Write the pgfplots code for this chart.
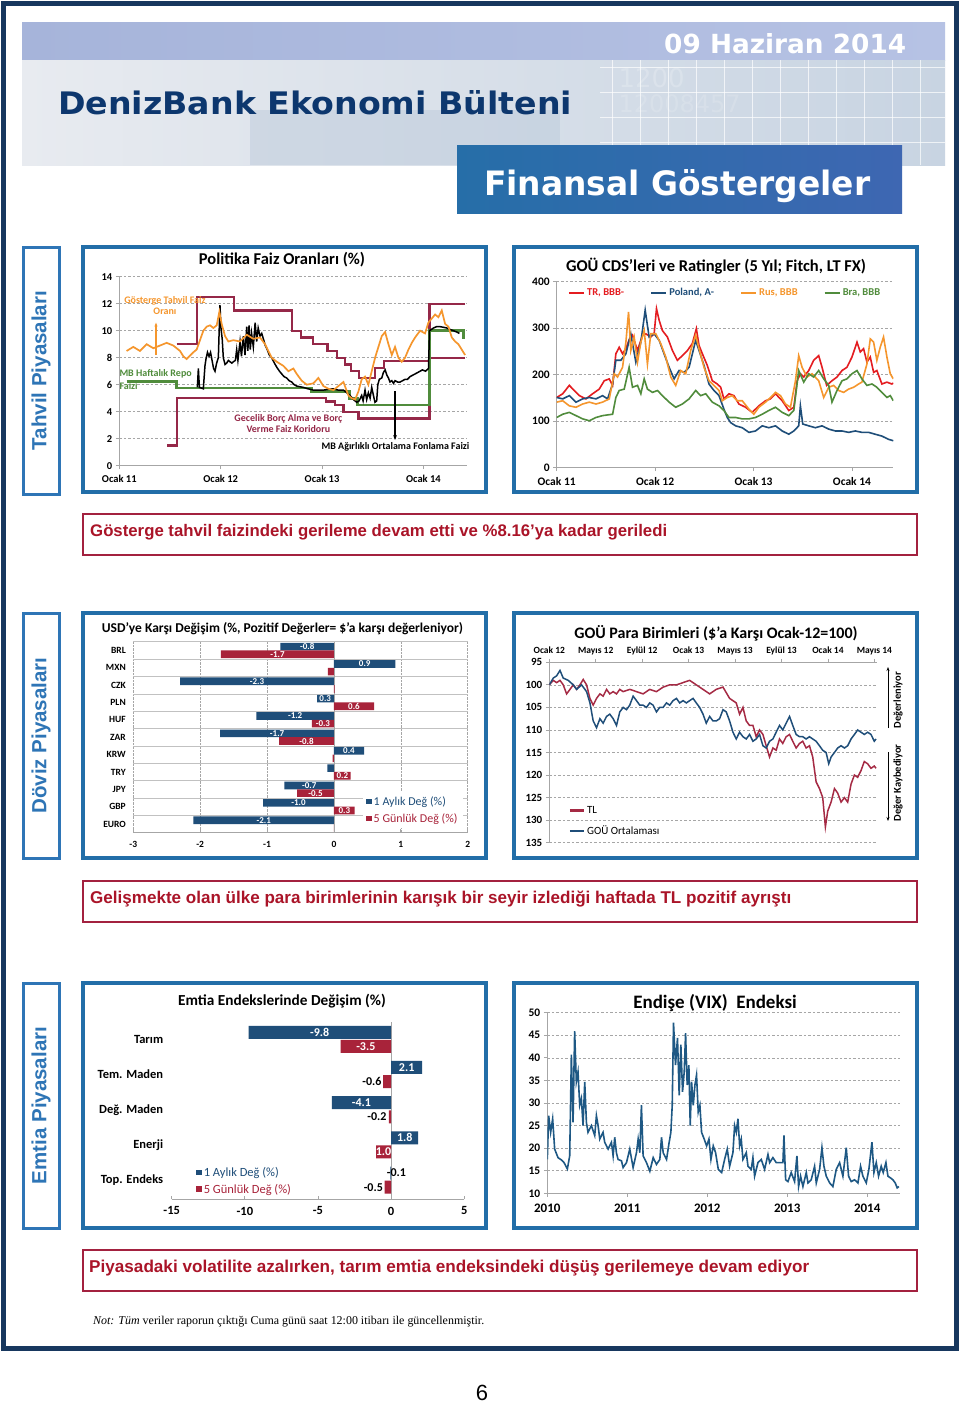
\documentclass[border=0pt]{standalone}
\usepackage{fontspec}
\usepackage{graphicx}
\usepackage{pgfplots}
\usepackage{pgfplotstable}
\pgfplotsset{compat=1.18}
\usetikzlibrary{arrows.meta}
\setmainfont{Carlito}
\newfontfamily\tahoma{DejaVu Sans}
\newfontfamily\arial{Liberation Sans}
\newfontfamily\tnr{Liberation Serif}

\definecolor{frame}{RGB}{23,55,94}
\definecolor{panel}{RGB}{34,110,168}
\definecolor{seclab}{RGB}{46,117,182}
\definecolor{capred}{RGB}{170,20,40}
\definecolor{capbox}{RGB}{163,33,63}
\definecolor{navytxt}{RGB}{13,55,110}
\definecolor{band}{RGB}{166,180,218}
\definecolor{bandr}{RGB}{182,194,228}
\definecolor{hdl}{RGB}{232,235,240}
\definecolor{hdr}{RGB}{200,212,226}
\definecolor{hdm}{RGB}{185,200,218}
\definecolor{boxl}{RGB}{38,110,168}
\definecolor{boxr}{RGB}{62,103,178}
\definecolor{maroon}{RGB}{149,40,72}
\definecolor{orng}{RGB}{245,150,45}
\definecolor{grn}{RGB}{80,140,60}
\definecolor{trred}{RGB}{228,28,32}
\definecolor{dblue}{RGB}{31,78,121}
\definecolor{barred}{RGB}{168,35,58}
\definecolor{tlred}{RGB}{165,42,68}
\definecolor{vixblue}{RGB}{30,88,132}
\definecolor{axgray}{RGB}{166,166,166}

% ---------- data ----------
% Politika faiz oranlari
\pgfplotstableread{
x y
2011.566 9
2011.770 12.5
2012.132 11.5
2012.701 10
2012.789 9.5
2012.914 9
2013.053 8.5
2013.145 8
2013.227 7.5
2013.283 7
2013.362 6.5
2013.526 7.25
2013.612 7.75
2014.060 12
2014.411 12
}\upcor
\pgfplotstableread{
x y
2011.474 1.5
2011.566 5
2013.039 4.75
2013.128 4.5
2013.211 4.0
2013.359 3.5
2014.060 8
2014.411 8
}\lowcor
\pgfplotstableread{
x y
2011.072 6.25
2011.566 5.75
2012.898 5.5
2013.270 5
2013.349 4.5
2014.060 10
2014.395 9.5
2014.411 9.5
}\repo
\pgfplotstableread{
x y
2011.072 8.5
2011.138 8.8
2011.204 8.5
2011.270 9.0
2011.336 8.7
2011.401 8.9
2011.467 9.1
2011.533 8.9
2011.599 8.5
2011.632 8.1
2011.664 7.9
2011.730 8.4
2011.763 8.6
2011.796 9.3
2011.829 10.0
2011.862 10.3
2011.895 10.4
2011.928 10.2
2011.961 10.4
2011.987 11.4
2012.010 10.5
2012.043 9.6
2012.076 9.2
2012.125 9.3
2012.191 9.2
2012.257 9.7
2012.322 9.4
2012.388 9.5
2012.438 9.0
2012.470 8.5
2012.503 8.0
2012.553 7.7
2012.618 7.4
2012.668 7.0
2012.717 7.2
2012.750 6.8
2012.799 6.3
2012.849 6.0
2012.914 6.1
2012.964 6.5
2013.013 5.9
2013.063 5.7
2013.112 5.6
2013.161 5.9
2013.211 6.2
2013.260 5.2
2013.293 5.0
2013.326 4.9
2013.359 5.5
2013.391 6.4
2013.424 6.6
2013.457 6.0
2013.490 7.0
2013.523 8.0
2013.556 8.8
2013.589 9.6
2013.622 9.9
2013.655 9.0
2013.688 8.2
2013.720 8.8
2013.753 8.0
2013.786 7.7
2013.819 8.0
2013.852 8.6
2013.885 9.1
2013.918 9.5
2013.967 10.0
2014.016 9.8
2014.049 10.6
2014.082 10.9
2014.115 11.2
2014.148 11.0
2014.181 11.5
2014.214 10.5
2014.247 10.3
2014.280 9.5
2014.313 9.2
2014.345 9.0
2014.378 8.6
2014.411 8.2
}\bond
\pgfplotstableread{
x y
2011.770 5.8
2011.780 7.2
2011.790 5.8
2011.829 5.7
2011.845 7.4
2011.855 7.9
2011.870 8.4
2011.885 8.1
2011.900 8.4
2011.915 7.8
2011.930 7.2
2011.944 7.0
2011.960 7.6
2011.977 8.0
2011.993 11.9
2012.003 10.2
2012.015 9.4
2012.026 8.0
2012.043 7.5
2012.059 7.6
2012.076 7.8
2012.092 7.7
2012.110 7.6
2012.125 7.7
2012.145 7.8
2012.158 8.6
2012.170 7.8
2012.191 9.2
2012.205 8.1
2012.224 9.6
2012.240 8.2
2012.257 10.3
2012.268 8.5
2012.280 10.4
2012.292 8.6
2012.305 9.8
2012.322 8.8
2012.340 10.6
2012.355 9.2
2012.370 10.2
2012.388 9.6
2012.405 9.8
2012.421 9.4
2012.440 8.9
2012.454 8.7
2012.480 8.2
2012.503 8.0
2012.530 7.6
2012.553 7.3
2012.580 7.0
2012.602 6.8
2012.625 6.6
2012.651 6.5
2012.675 6.3
2012.701 6.2
2012.725 6.0
2012.750 5.9
2012.816 5.8
2012.860 5.7
2012.914 5.6
2012.960 5.6
2013.013 5.6
2013.060 5.65
2013.112 5.7
2013.160 5.6
2013.211 5.6
2013.245 5.4
2013.276 5.2
2013.310 4.9
2013.342 4.7
2013.365 4.8
2013.391 5.2
2013.405 4.8
2013.424 5.6
2013.440 4.9
2013.457 5.4
2013.474 5.0
2013.490 5.8
2013.507 5.2
2013.522 4.7
2013.539 4.8
2013.550 6.0
2013.565 6.4
2013.589 6.5
2013.605 6.9
2013.622 7.1
2013.640 6.7
2013.655 6.5
2013.670 6.2
2013.688 6.3
2013.705 6.1
2013.720 6.3
2013.745 6.2
2013.770 6.2
2013.795 6.3
2013.819 6.4
2013.843 6.4
2013.868 6.6
2013.893 6.7
2013.918 6.8
2013.943 6.9
2013.967 7.0
2013.990 7.1
2014.020 7.0
2014.050 7.2
2014.060 10.0
2014.080 10.1
2014.099 10.2
2014.130 10.3
2014.164 10.3
2014.200 10.25
2014.230 10.2
2014.260 10.1
2014.296 10.0
2014.330 9.9
2014.355 9.8
}\fund

% CDS
\pgfplotstableread{
x y
2011.000 151
2011.061 159
2011.128 177
2011.179 166
2011.230 155
2011.297 148
2011.365 159
2011.432 169
2011.483 187
2011.534 191
2011.568 177
2011.601 245
2011.635 259
2011.669 245
2011.703 256
2011.736 275
2011.770 285
2011.821 252
2011.872 285
2011.905 288
2011.956 281
2011.990 288
2012.014 342
2012.041 317
2012.074 295
2012.125 281
2012.176 252
2012.226 231
2012.277 241
2012.328 252
2012.378 267
2012.419 299
2012.446 263
2012.480 245
2012.530 220
2012.581 187
2012.632 180
2012.666 173
2012.699 148
2012.750 159
2012.801 155
2012.851 137
2012.919 130
2012.986 119
2013.054 133
2013.122 144
2013.172 148
2013.223 159
2013.291 144
2013.358 123
2013.409 130
2013.443 187
2013.476 202
2013.510 195
2013.561 209
2013.611 231
2013.662 241
2013.696 216
2013.743 177
2013.797 187
2013.848 195
2013.899 209
2013.949 216
2014.000 238
2014.051 270
2014.084 249
2014.118 256
2014.152 227
2014.186 238
2014.220 205
2014.253 209
2014.304 180
2014.355 184
2014.405 180
2014.420 182
}\cdstr
\pgfplotstableread{
x y
2011.000 151
2011.061 148
2011.128 155
2011.196 141
2011.264 148
2011.331 151
2011.399 148
2011.466 155
2011.517 148
2011.568 180
2011.601 231
2011.652 231
2011.703 245
2011.753 288
2011.804 227
2011.855 270
2011.899 339
2011.939 281
2011.990 288
2012.041 274
2012.091 245
2012.142 216
2012.193 191
2012.243 209
2012.294 205
2012.345 216
2012.412 274
2012.446 252
2012.497 220
2012.547 180
2012.598 166
2012.649 155
2012.699 126
2012.733 108
2012.767 97
2012.818 90
2012.885 86
2012.953 76
2013.020 79
2013.088 90
2013.155 86
2013.223 90
2013.291 79
2013.358 72
2013.409 79
2013.459 90
2013.476 133
2013.500 94
2013.561 90
2013.628 86
2013.696 90
2013.764 83
2013.831 79
2013.899 79
2013.966 76
2014.034 79
2014.101 76
2014.169 76
2014.236 72
2014.304 68
2014.372 61
2014.420 58
}\cdspl
\pgfplotstableread{
x y
2011.000 141
2011.061 144
2011.128 133
2011.196 130
2011.264 137
2011.331 141
2011.399 137
2011.466 141
2011.534 148
2011.584 202
2011.618 195
2011.669 216
2011.703 270
2011.730 335
2011.753 252
2011.787 281
2011.821 227
2011.855 270
2011.889 295
2011.922 223
2011.956 288
2012.007 288
2012.057 267
2012.108 238
2012.159 195
2012.209 177
2012.260 209
2012.311 202
2012.361 252
2012.412 285
2012.446 256
2012.497 216
2012.547 187
2012.598 177
2012.649 166
2012.682 144
2012.733 151
2012.784 155
2012.834 144
2012.885 144
2012.953 126
2013.003 115
2013.054 130
2013.122 141
2013.172 151
2013.223 162
2013.274 155
2013.324 137
2013.375 130
2013.426 187
2013.459 241
2013.493 216
2013.544 195
2013.595 202
2013.662 187
2013.713 151
2013.764 173
2013.814 177
2013.865 166
2013.916 162
2013.966 169
2014.017 173
2014.068 180
2014.101 184
2014.152 223
2014.186 277
2014.220 270
2014.253 231
2014.287 259
2014.321 281
2014.355 238
2014.389 202
2014.420 191
}\cdsru
\pgfplotstableread{
x y
2011.000 108
2011.061 115
2011.128 119
2011.196 112
2011.264 105
2011.331 101
2011.399 108
2011.466 112
2011.568 115
2011.601 151
2011.635 166
2011.686 169
2011.736 216
2011.770 173
2011.821 177
2011.855 159
2011.889 191
2011.922 169
2011.973 162
2012.024 166
2012.074 155
2012.142 141
2012.209 130
2012.277 137
2012.345 148
2012.412 166
2012.463 155
2012.514 159
2012.581 141
2012.649 133
2012.699 123
2012.750 108
2012.818 108
2012.885 105
2012.953 105
2013.020 108
2013.088 115
2013.155 123
2013.223 130
2013.291 119
2013.358 112
2013.409 123
2013.459 209
2013.510 184
2013.561 202
2013.611 195
2013.662 209
2013.713 191
2013.764 177
2013.797 141
2013.848 166
2013.899 187
2013.949 191
2014.000 202
2014.051 209
2014.101 191
2014.152 177
2014.203 180
2014.253 173
2014.304 162
2014.355 151
2014.389 155
2014.420 144
}\cdsbr

% USD'ye karsi degisim: c = category (BRL=10 ... EURO=0), b = 1 aylik, r = 5 gunluk
\pgfplotstableread{
c b r
10 -0.80 -1.69
9 0.92 -0.09
8 -2.30 0.01
7 -0.25 0.60
6 -1.16 -0.33
5 -1.70 -0.82
4 0.45 -0.02
3 -0.10 0.25
2 -0.74 -0.55
1 -1.06 0.31
0 -2.10 0.00
}\usd
\pgfplotstableread{
x y l
-0.40 10.22 -0.8
-0.845 9.78 -1.7
0.46 9.22 0.9
-1.15 8.22 -2.3
-0.13 7.22 0.3
0.30 6.78 0.6
-0.58 6.22 -1.2
-0.165 5.78 -0.3
-0.85 5.22 -1.7
-0.41 4.78 -0.8
0.225 4.22 0.4
0.125 2.78 0.2
-0.37 2.22 -0.7
-0.275 1.78 -0.5
-0.53 1.22 -1.0
0.155 0.78 0.3
-1.05 0.22 -2.1
}\usdlab

% GOU para birimleri (x = ay, Ocak-12 = 0)
\pgfplotstableread{
x y
0 100
0.34 99
0.63 99.5
0.92 99
1.20 100
1.49 102
1.78 101
2.06 100
2.35 101
2.64 100
2.92 98.8
3.21 100
3.50 103
3.78 104.5
4.07 103
4.36 102
4.64 102.5
4.93 101
5.21 102
5.50 101.5
5.79 102
6.07 101
6.36 101.5
6.93 101
7.51 101.5
8.08 102
8.65 101
9.23 101.5
9.80 100.5
10.37 100
10.95 100
11.52 99.5
12.09 99
12.66 100
13.24 101
13.81 102
14.38 101
14.96 100.5
15.53 103
16.10 104
16.39 106.5
16.68 105
16.96 108
17.25 109
17.54 109
17.82 111.5
18.11 110
18.40 111
18.68 113.5
18.97 116
19.26 114
19.54 114.5
19.83 112
20.11 113
20.40 111.5
20.69 111
20.97 112.5
21.26 114
21.55 113
21.83 112.5
22.12 114
22.41 113.5
22.69 116
22.98 121.5
23.27 123
23.55 125
23.78 131.5
23.98 128
24.27 126
24.56 123
24.84 124
25.13 126
25.42 125
25.70 126
25.99 122
26.28 120
26.56 120.5
26.85 119
27.13 117
27.42 117.5
27.71 118.5
27.99 118
28.14 118.5
}\tldata
\pgfplotstableread{
x y
0 100
0.34 98.5
0.63 98
0.92 96.8
1.20 98.5
1.63 99
2.06 100
2.35 101
2.78 100
3.21 101.5
3.50 104
3.78 108
4.07 109.5
4.36 107.5
4.64 108.5
4.93 107
5.21 106.5
5.50 107.5
5.79 109
6.07 106
6.36 105
6.65 105.5
6.93 104.5
7.22 102.5
7.51 103.5
7.79 104.5
8.08 104.5
8.37 105
8.65 104
8.94 104.5
9.23 106
9.51 105
9.80 105
10.09 104
10.37 104.5
10.66 103.5
10.95 103
11.23 104
11.52 103.5
11.81 104
12.09 103.5
12.38 103
12.66 104
12.95 105
13.24 106.5
13.52 108.5
13.81 107
14.10 108
14.38 108
14.67 107.5
14.96 105.5
15.24 106
15.53 108
15.82 110.5
16.10 112
16.39 110.5
16.68 111.5
16.96 112
17.25 111
17.54 112.5
17.82 112
18.11 111
18.40 113.5
18.68 114
18.97 112.5
19.26 112
19.54 110.5
19.83 109
20.11 110
20.40 108.5
20.69 107
20.97 109
21.26 111
21.55 111.5
21.83 111.5
22.12 112
22.41 111.5
22.69 112
22.98 112.5
23.27 113.5
23.55 114.5
23.84 115
24.07 117.5
24.27 116
24.56 115
24.84 114
25.13 113.5
25.42 114
25.70 113.5
25.99 112
26.28 111
26.56 110
26.85 110.5
27.13 111
27.42 110.5
27.71 111
27.99 112.5
28.14 112
}\goudata

% Emtia: c = category (Tarim=4 ... Top. Endeks=0)
\pgfplotstableread{
c b r
4 -9.75 -3.46
3 2.12 -0.55
2 -4.05 -0.16
1 1.85 -1.03
0 -0.06 -0.45
}\emt
\pgfplotstableread{
x y l
-4.88 4.2 -9.8
-1.73 3.8 -3.5
1.06 3.2 2.1
-2.03 2.2 -4.1
0.93 1.2 1.8
-0.52 0.8 1.0
}\emtw
\pgfplotstableread{
x y l
-0.55 2.8 -0.6
-0.20 1.8 -0.2
-0.45 -0.2 -0.5
}\emtb

% VIX
\pgfplotstableread{
x y
2010.000 17.5
2010.017 27.2
2010.042 23.5
2010.067 26.5
2010.092 19.8
2010.134 17.9
2010.175 17.4
2010.209 16.8
2010.251 15.4
2010.280 18.3
2010.301 40.7
2010.322 25.7
2010.342 45.9
2010.363 34.7
2010.384 36.9
2010.405 29.5
2010.426 31
2010.447 25
2010.468 34.7
2010.489 25.7
2010.509 23.5
2010.551 25
2010.593 22.8
2010.614 27.2
2010.635 25
2010.656 22
2010.697 23.5
2010.718 21.3
2010.760 19.8
2010.802 21.3
2010.823 18.3
2010.843 22.4
2010.864 19
2010.885 17.5
2010.927 17.2
2010.948 15.7
2010.990 16.8
2011.031 19.8
2011.073 15.7
2011.115 19
2011.136 22
2011.157 19
2011.177 29.5
2011.198 18.3
2011.240 16.8
2011.282 14.9
2011.324 17.9
2011.365 16.4
2011.407 17.5
2011.428 22.4
2011.449 19
2011.491 17.5
2011.520 20.9
2011.545 23.5
2011.562 29.5
2011.578 47.8
2011.603 38.4
2011.628 44.4
2011.649 31.7
2011.670 42.9
2011.691 32.5
2011.712 36.9
2011.729 45.5
2011.749 34
2011.770 38.4
2011.787 25
2011.804 34.7
2011.825 29.5
2011.846 34
2011.866 36.2
2011.887 28
2011.908 29.5
2011.929 23.5
2011.962 22
2011.992 20.5
2012.021 22
2012.046 17.5
2012.075 20.5
2012.104 19
2012.138 15.3
2012.180 14.6
2012.217 17.5
2012.250 19.8
2012.280 16
2012.321 19
2012.342 25
2012.363 23.5
2012.384 26.5
2012.405 20.5
2012.425 22
2012.446 17.5
2012.488 19
2012.509 16
2012.550 15.3
2012.571 17.9
2012.592 13.8
2012.634 16.8
2012.675 17.5
2012.717 15.3
2012.759 18.6
2012.780 16.8
2012.821 17.9
2012.863 16.8
2012.904 16.8
2012.946 16.8
2012.959 22.8
2012.980 13
2013.009 12.6
2013.050 14.6
2013.092 12.6
2013.121 18.3
2013.142 11.5
2013.167 13.8
2013.196 11.5
2013.238 14.6
2013.259 12.3
2013.300 13
2013.342 16
2013.363 12.3
2013.405 15.3
2013.434 20.1
2013.459 16
2013.488 13.8
2013.530 12.3
2013.571 11.5
2013.613 15.3
2013.655 16.8
2013.696 13.8
2013.738 20.1
2013.767 13.8
2013.800 12.6
2013.842 13
2013.884 12.3
2013.917 16
2013.946 13.8
2013.988 12.3
2014.021 15.3
2014.059 21.3
2014.084 14.6
2014.113 16.8
2014.142 13.8
2014.175 16
2014.200 14.6
2014.234 16.8
2014.259 13.8
2014.292 13.4
2014.321 13
2014.350 12.3
2014.375 11.2
2014.396 11.5
}\vix

\pgfplotsset{
  base/.style={
    scale only axis,
    axis lines*=left,
    axis line style={draw=axgray, line width=0.8pt},
    tick style={draw=axgray, line width=0.8pt},
    tick align=outside,
    major tick length=3.5pt,
    /pgf/number format/assume math mode=true,
    /pgf/number format/1000 sep={},
    tick label style={font=\bfseries\fontsize{10.5}{12}\selectfont, text=black},
    ymajorgrids,
    major grid style={draw=axgray, line width=0.6pt, dash pattern=on 2.5pt off 2pt},
  },
  barax/.style={
    scale only axis,
    axis x line*=bottom, axis y line*=left,
    axis line style={draw=axgray, line width=0.8pt},
    y axis line style={draw=none},
    tick style={draw=axgray, line width=0.8pt},
    ytick style={draw=none},
    major tick length=3.5pt, minor tick length=0pt,
    /pgf/number format/assume math mode=true,
    extra x ticks={0}, extra x tick labels={},
    extra x tick style={grid=major, major grid style={solid, draw=axgray, line width=0.8pt}},
    legend cell align=left,
  },
}

\begin{document}
\begin{tikzpicture}
\useasboundingbox (0pt,0pt) rectangle (960pt,-1403pt);
\begin{scope}[x=1pt,y=1pt]
\fill[white] (0,0) rectangle (960,-1403);

% ---------- header ----------
\shade[left color=band, right color=bandr] (22,-22) rectangle (945,-60);
\shade[left color=hdl, right color=hdr] (22,-60) rectangle (945,-165);
\fill[hdm, opacity=0.45] (250,-110) rectangle (560,-165);
\foreach \gx in {612,640,...,945} \draw[white, opacity=0.7] (\gx,-60) -- (\gx,-165);
\foreach \gy in {-67,-92,-117,-142} \draw[white, opacity=0.7] (600,\gy) -- (945,\gy);
\node[text=white, opacity=0.2, anchor=west, font=\tahoma\fontsize{26}{26}\selectfont] at (615,-78) {1200};
\node[text=white, opacity=0.15, anchor=west, font=\tahoma\fontsize{24}{24}\selectfont] at (615,-104) {12008457};
\node[anchor=base west, inner sep=0, text=white] at (664,-53)
  {\resizebox{242pt}{20pt}{\tahoma\bfseries 09 Haziran 2014}};
\node[anchor=base west, inner sep=0, text=navytxt] at (58,-114)
  {\resizebox{514pt}{24pt}{\tahoma\bfseries DenizBank Ekonomi Bülteni}};
\shade[left color=boxl, right color=boxr] (457,-145) rectangle (902,-213);
\node[anchor=base west, inner sep=0, text=white] at (484,-195)
  {\resizebox{386pt}{26pt}{\tahoma\bfseries Finansal Göstergeler}};

% ---------- section labels ----------
\foreach \yt/\yb/\lab in {247/494/Tahvil Piyasaları, 613/858/Döviz Piyasaları, 983/1228/Emtia Piyasaları}{
  \draw[seclab, line width=3pt] (23,-\yt) rectangle (59,-\yb);
  \node[rotate=90, text=seclab, font=\arial\bfseries\fontsize{20.5}{22}\selectfont] at (41,{-(\yt+\yb)/2}) {\lab};
}

% ---------- panels ----------
\foreach \xl/\xr in {83/486, 513.5/917}{
  \foreach \yt/\yb in {247/492, 613/858, 983/1228}{
    \draw[panel, line width=4pt] (\xl,-\yt) rectangle (\xr,-\yb);
  }
}

% ---------- chart titles ----------
\node[font=\bfseries\fontsize{16.5}{18}\selectfont] at (282,-260) {Politika Faiz Oranları (\%)};
\node[font=\bfseries\fontsize{16.5}{18}\selectfont] at (716,-266.5) {GOÜ CDS'leri ve Ratingler (5 Yıl; Fitch, LT FX)};
\node[font=\bfseries\fontsize{13.5}{15}\selectfont] at (282.5,-629) {USD'ye Karşı Değişim (\%, Pozitif Değerler= \$'a karşı değerleniyor)};
\node[font=\bfseries\fontsize{16}{18}\selectfont] at (716,-633) {GOÜ Para Birimleri (\$'a Karşı Ocak-12=100)};
\node[font=\bfseries\fontsize{15.3}{17}\selectfont] at (282,-1001.5) {Emtia Endekslerinde Değişim (\%)};
\node[font=\bfseries\fontsize{19}{21}\selectfont] at (715,-1003) {Endişe (VIX)\ \ Endeksi};

% ---------- chart 4 side notes ----------
\draw[black, line width=0.8pt, -{Stealth[length=4pt]}] (888,-728) -- (888,-667);
\draw[black, line width=0.8pt, -{Stealth[length=4pt]}] (888,-752) -- (888,-821);
\node[rotate=90, font=\bfseries\fontsize{10.5}{12}\selectfont] at (898,-700) {Değerleniyor};
\node[rotate=90, font=\bfseries\fontsize{10.5}{12}\selectfont] at (898,-783) {Değer Kaybediyor};

% ---------- captions ----------
\foreach \yt/\yb in {514/555, 881/922, 1250/1291}{
  \draw[capbox, line width=1.4pt] (83,-\yt) rectangle (917,-\yb);
}
\node[anchor=base west, inner sep=0, text=capred] at (90,-536)
  {\resizebox{577pt}{!}{\arial\bfseries Gösterge tahvil faizindeki gerileme devam etti ve \%8.16’ya kadar geriledi}};
\node[anchor=base west, inner sep=0, text=capred] at (90,-903)
  {\resizebox{701pt}{!}{\arial\bfseries Gelişmekte olan ülke para birimlerinin karışık bir seyir izlediği haftada TL pozitif ayrıştı}};
\node[anchor=base west, inner sep=0, text=capred] at (89,-1272)
  {\resizebox{720pt}{!}{\arial\bfseries Piyasadaki volatilite azalırken, tarım emtia endeksindeki düşüş gerilemeye devam ediyor}};

% ---------- note, frame, page number ----------
\node[anchor=base west, inner sep=0] at (93,-1324)
  {\resizebox{391pt}{!}{\tnr\itshape Not: Tüm\upshape\ veriler raporun çıktığı Cuma günü saat 12:00 itibarı ile güncellenmiştir.}};
\draw[frame, line width=4.5pt] (3.5,-3.5) rectangle (956.5,-1348.5);
\node[font=\arial\fontsize{22}{24}\selectfont] at (482,-1393) {6};
\end{scope}

% ---------- chart 1: Politika Faiz Oranlari ----------
\begin{axis}[base, at={(119.3pt,-276.7pt)}, anchor=north west,
  width=346.7pt, height=189pt, clip=false,
  xmin=2011, xmax=2014.42, ymin=0, ymax=14,
  xtick={2011,2012,2013,2014}, xticklabels={Ocak 11,Ocak 12,Ocak 13,Ocak 14},
  xticklabel style={yshift=-2pt},
  ytick={0,2,...,14}]
\addplot[const plot, maroon, line width=2.2pt] table {\upcor};
\addplot[const plot, maroon, line width=2.2pt] table {\lowcor};
\addplot[const plot, grn, line width=2.6pt] table {\repo};
\addplot[black, line width=1.5pt] table {\fund};
\addplot[orng, line width=1.7pt] table {\bond};
\node[text=orng, align=center, font=\bfseries\fontsize{10}{11.5}\selectfont] at (axis cs:2011.45,11.85) {Gösterge Tahvil Faiz\\Oranı};
\draw[orng, line width=1.3pt, -{Stealth[length=4pt]}] (axis cs:2011.362,8.2) -- (axis cs:2011.362,10.6);
\node[text=grn, anchor=west, align=left, inner sep=0, font=\bfseries\fontsize{10}{12.5}\selectfont] at (axis cs:2011.0,6.4) {MB Haftalık Repo\\Faizi};
\node[text=maroon, align=center, font=\bfseries\fontsize{10}{10.5}\selectfont] at (axis cs:2012.668,3.13) {Gecelik Borç Alma ve Borç\\Verme Faiz Koridoru};
\draw[black, line width=1.3pt, -{Stealth[length=5pt]}] (axis cs:2013.72,5.5) -- (axis cs:2013.72,1.9);
\node[anchor=east, inner sep=0, font=\bfseries\fontsize{10}{11}\selectfont] at (axis cs:2014.455,1.41) {MB Ağırlıklı Ortalama Fonlama Faizi};
\end{axis}

% ---------- chart 2: CDS ----------
\begin{axis}[base, at={(556.7pt,-281.7pt)}, anchor=north west,
  width=336.6pt, height=186pt,
  xmin=2011, xmax=2014.42, ymin=0, ymax=400,
  xtick={2011,2012,2013,2014}, xticklabels={Ocak 11,Ocak 12,Ocak 13,Ocak 14},
  ytick={0,100,...,400},
  tick label style={font=\bfseries\fontsize{11.5}{13}\selectfont},
  xticklabel style={yshift=-3pt},
  legend columns=4,
  legend style={at={(axis description cs:0.5,0.939)}, anchor=center, draw=none, fill=none,
    font=\bfseries\fontsize{10.5}{12}\selectfont,
    /tikz/every even column/.append style={column sep=24pt}}]
\addplot[trred, line width=1.6pt, legend image code/.code={\draw[trred, line width=2.2pt] (0pt,0pt) -- (15pt,0pt);}] table {\cdstr};
\addlegendentry{\textcolor{trred}{TR, BBB-}}
\addplot[dblue, line width=1.6pt, legend image code/.code={\draw[dblue, line width=2.2pt] (0pt,0pt) -- (15pt,0pt);}] table {\cdspl};
\addlegendentry{\textcolor{dblue}{Poland, A-}}
\addplot[orng, line width=1.6pt, legend image code/.code={\draw[orng, line width=2.2pt] (0pt,0pt) -- (15pt,0pt);}] table {\cdsru};
\addlegendentry{\textcolor{orng}{Rus, BBB}}
\addplot[grn, line width=1.6pt, legend image code/.code={\draw[grn, line width=2.2pt] (0pt,0pt) -- (15pt,0pt);}] table {\cdsbr};
\addlegendentry{\textcolor{grn}{Bra, BBB}}
\end{axis}

% ---------- chart 3: USD'ye karsi degisim ----------
\begin{axis}[barax, at={(133.3pt,-641.7pt)}, anchor=north west,
  width=334.4pt, height=191pt,
  xmin=-3, xmax=2, ymin=-0.5, ymax=10.5,
  xtick={-3,-2,...,2},
  ytick={0,1,...,10}, yticklabels={EURO,GBP,JPY,TRY,KRW,ZAR,HUF,PLN,CZK,MXN,BRL},
  minor ytick={-0.5,0.5,...,10.5}, yminorgrids,
  minor grid style={draw=axgray!70, line width=0.6pt},
  xmajorgrids, major grid style={densely dotted, draw=axgray, line width=0.6pt},
  xticklabel style={font=\bfseries\fontsize{9.5}{11}\selectfont, yshift=-5pt},
  yticklabel style={font=\bfseries\fontsize{9.5}{10}\selectfont, xshift=-4pt},
  legend style={at={(axis description cs:0.687,0.213)}, anchor=north west, draw=none, fill=white,
    font=\fontsize{12}{14}\selectfont, row sep=3pt}]
\addplot[xbar, bar width=0.44, bar shift=0pt, fill=dblue, draw=none,
  legend image code/.code={\fill[dblue] (0pt,-2.8pt) rectangle (5.5pt,2.8pt);}]
  table[x=b, y expr=\thisrow{c}+0.22] {\usd};
\addlegendentry{\textcolor{dblue}{1 Aylık Değ (\%)}}
\addplot[xbar, bar width=0.44, bar shift=0pt, fill=barred, draw=none,
  legend image code/.code={\fill[barred] (0pt,-2.8pt) rectangle (5.5pt,2.8pt);}]
  table[x=r, y expr=\thisrow{c}-0.22] {\usd};
\addlegendentry{\textcolor{barred}{5 Günlük Değ (\%)}}
\addplot[forget plot, draw=none, nodes near coords, point meta=explicit symbolic,
  nodes near coords style={anchor=center, text=white, inner sep=0pt, font=\bfseries\fontsize{9}{10}\selectfont}]
  table[x=x, y=y, meta=l] {\usdlab};
\end{axis}

% ---------- chart 4: GOU para birimleri ----------
\begin{axis}[base, axis x line*=top, at={(549.3pt,-662.3pt)}, anchor=north west,
  width=327.4pt, height=180.4pt,
  xmin=0, xmax=28.2, ymin=95, ymax=135, y dir=reverse,
  xtick={0,4,...,28},
  xticklabels={Ocak 12,Mayıs 12,Eylül 12,Ocak 13,Mayıs 13,Eylül 13,Ocak 14,Mayıs 14},
  ytick={95,100,...,135},
  xticklabel style={font=\bfseries\fontsize{9.5}{11}\selectfont, text height=7pt, text depth=2pt},
  yticklabel style={font=\bfseries\fontsize{11}{13}\selectfont},
  legend style={at={(axis description cs:0.05,0.225)}, anchor=north west, draw=none, fill=none,
    font=\fontsize{11}{12}\selectfont, row sep=7pt},
  legend cell align=left]
\addplot[tlred, line width=1.5pt, legend image code/.code={\draw[tlred, line width=2.2pt] (0pt,0pt) -- (14pt,0pt);}] table {\tldata};
\addlegendentry{TL}
\addplot[dblue, line width=1.5pt, legend image code/.code={\draw[dblue, line width=2.2pt] (0pt,0pt) -- (14pt,0pt);}] table {\goudata};
\addlegendentry{GOÜ Ortalaması}
\end{axis}

% ---------- chart 5: Emtia ----------
\begin{axis}[barax, at={(171.7pt,-1021.7pt)}, anchor=north west,
  width=292.6pt, height=177.6pt,
  xmin=-15, xmax=5, ymin=-0.545, ymax=4.5,
  xtick={-15,-10,...,5},
  ytick={0,1,...,4}, yticklabels={Top. Endeks,Enerji,Değ. Maden,Tem. Maden,Tarım},
  xticklabel style={font=\bfseries\fontsize{12.5}{14}\selectfont, yshift=-4pt},
  yticklabel style={font=\bfseries\fontsize{12.5}{14}\selectfont, xshift=-5pt},
  legend style={at={(axis description cs:0.073,0.204)}, anchor=north west, draw=none, fill=none,
    font=\fontsize{12.5}{14}\selectfont, row sep=2pt}]
\addplot[xbar, bar width=0.37, bar shift=0pt, fill=dblue, draw=none,
  legend image code/.code={\fill[dblue] (0pt,-2.8pt) rectangle (5.5pt,2.8pt);}]
  table[x=b, y expr=\thisrow{c}+0.2] {\emt};
\addlegendentry{\textcolor{dblue}{1 Aylık Değ (\%)}}
\addplot[xbar, bar width=0.37, bar shift=0pt, fill=barred, draw=none,
  legend image code/.code={\fill[barred] (0pt,-2.8pt) rectangle (5.5pt,2.8pt);}]
  table[x=r, y expr=\thisrow{c}-0.2] {\emt};
\addlegendentry{\textcolor{barred}{5 Günlük Değ (\%)}}
\addplot[forget plot, draw=none, nodes near coords, point meta=explicit symbolic,
  nodes near coords style={anchor=center, text=white, inner sep=0pt, font=\bfseries\fontsize{12}{13}\selectfont}]
  table[x=x, y=y, meta=l] {\emtw};
\addplot[forget plot, draw=none, nodes near coords, point meta=explicit symbolic,
  nodes near coords style={anchor=east, text=black, inner sep=1.5pt, font=\bfseries\fontsize{12}{13}\selectfont}]
  table[x=x, y=y, meta=l] {\emtb};
\node[anchor=west, inner sep=0pt, font=\bfseries\fontsize{12}{13}\selectfont] at (axis cs:-0.3,0.2) {-0.1};
\end{axis}

% ---------- chart 6: VIX ----------
\begin{axis}[base, at={(547.3pt,-1012.7pt)}, anchor=north west,
  width=352.7pt, height=180.6pt,
  xmin=2010, xmax=2014.41, ymin=10, ymax=50,
  xtick={2010,2011,2012,2013,2014}, ytick={10,15,...,50},
  xticklabel style={font=\bfseries\fontsize{13}{14}\selectfont, yshift=-4pt},
  yticklabel style={font=\bfseries\fontsize{11.5}{13}\selectfont}]
\addplot[vixblue, line width=1.6pt] table {\vix};
\end{axis}
\end{tikzpicture}
\end{document}
